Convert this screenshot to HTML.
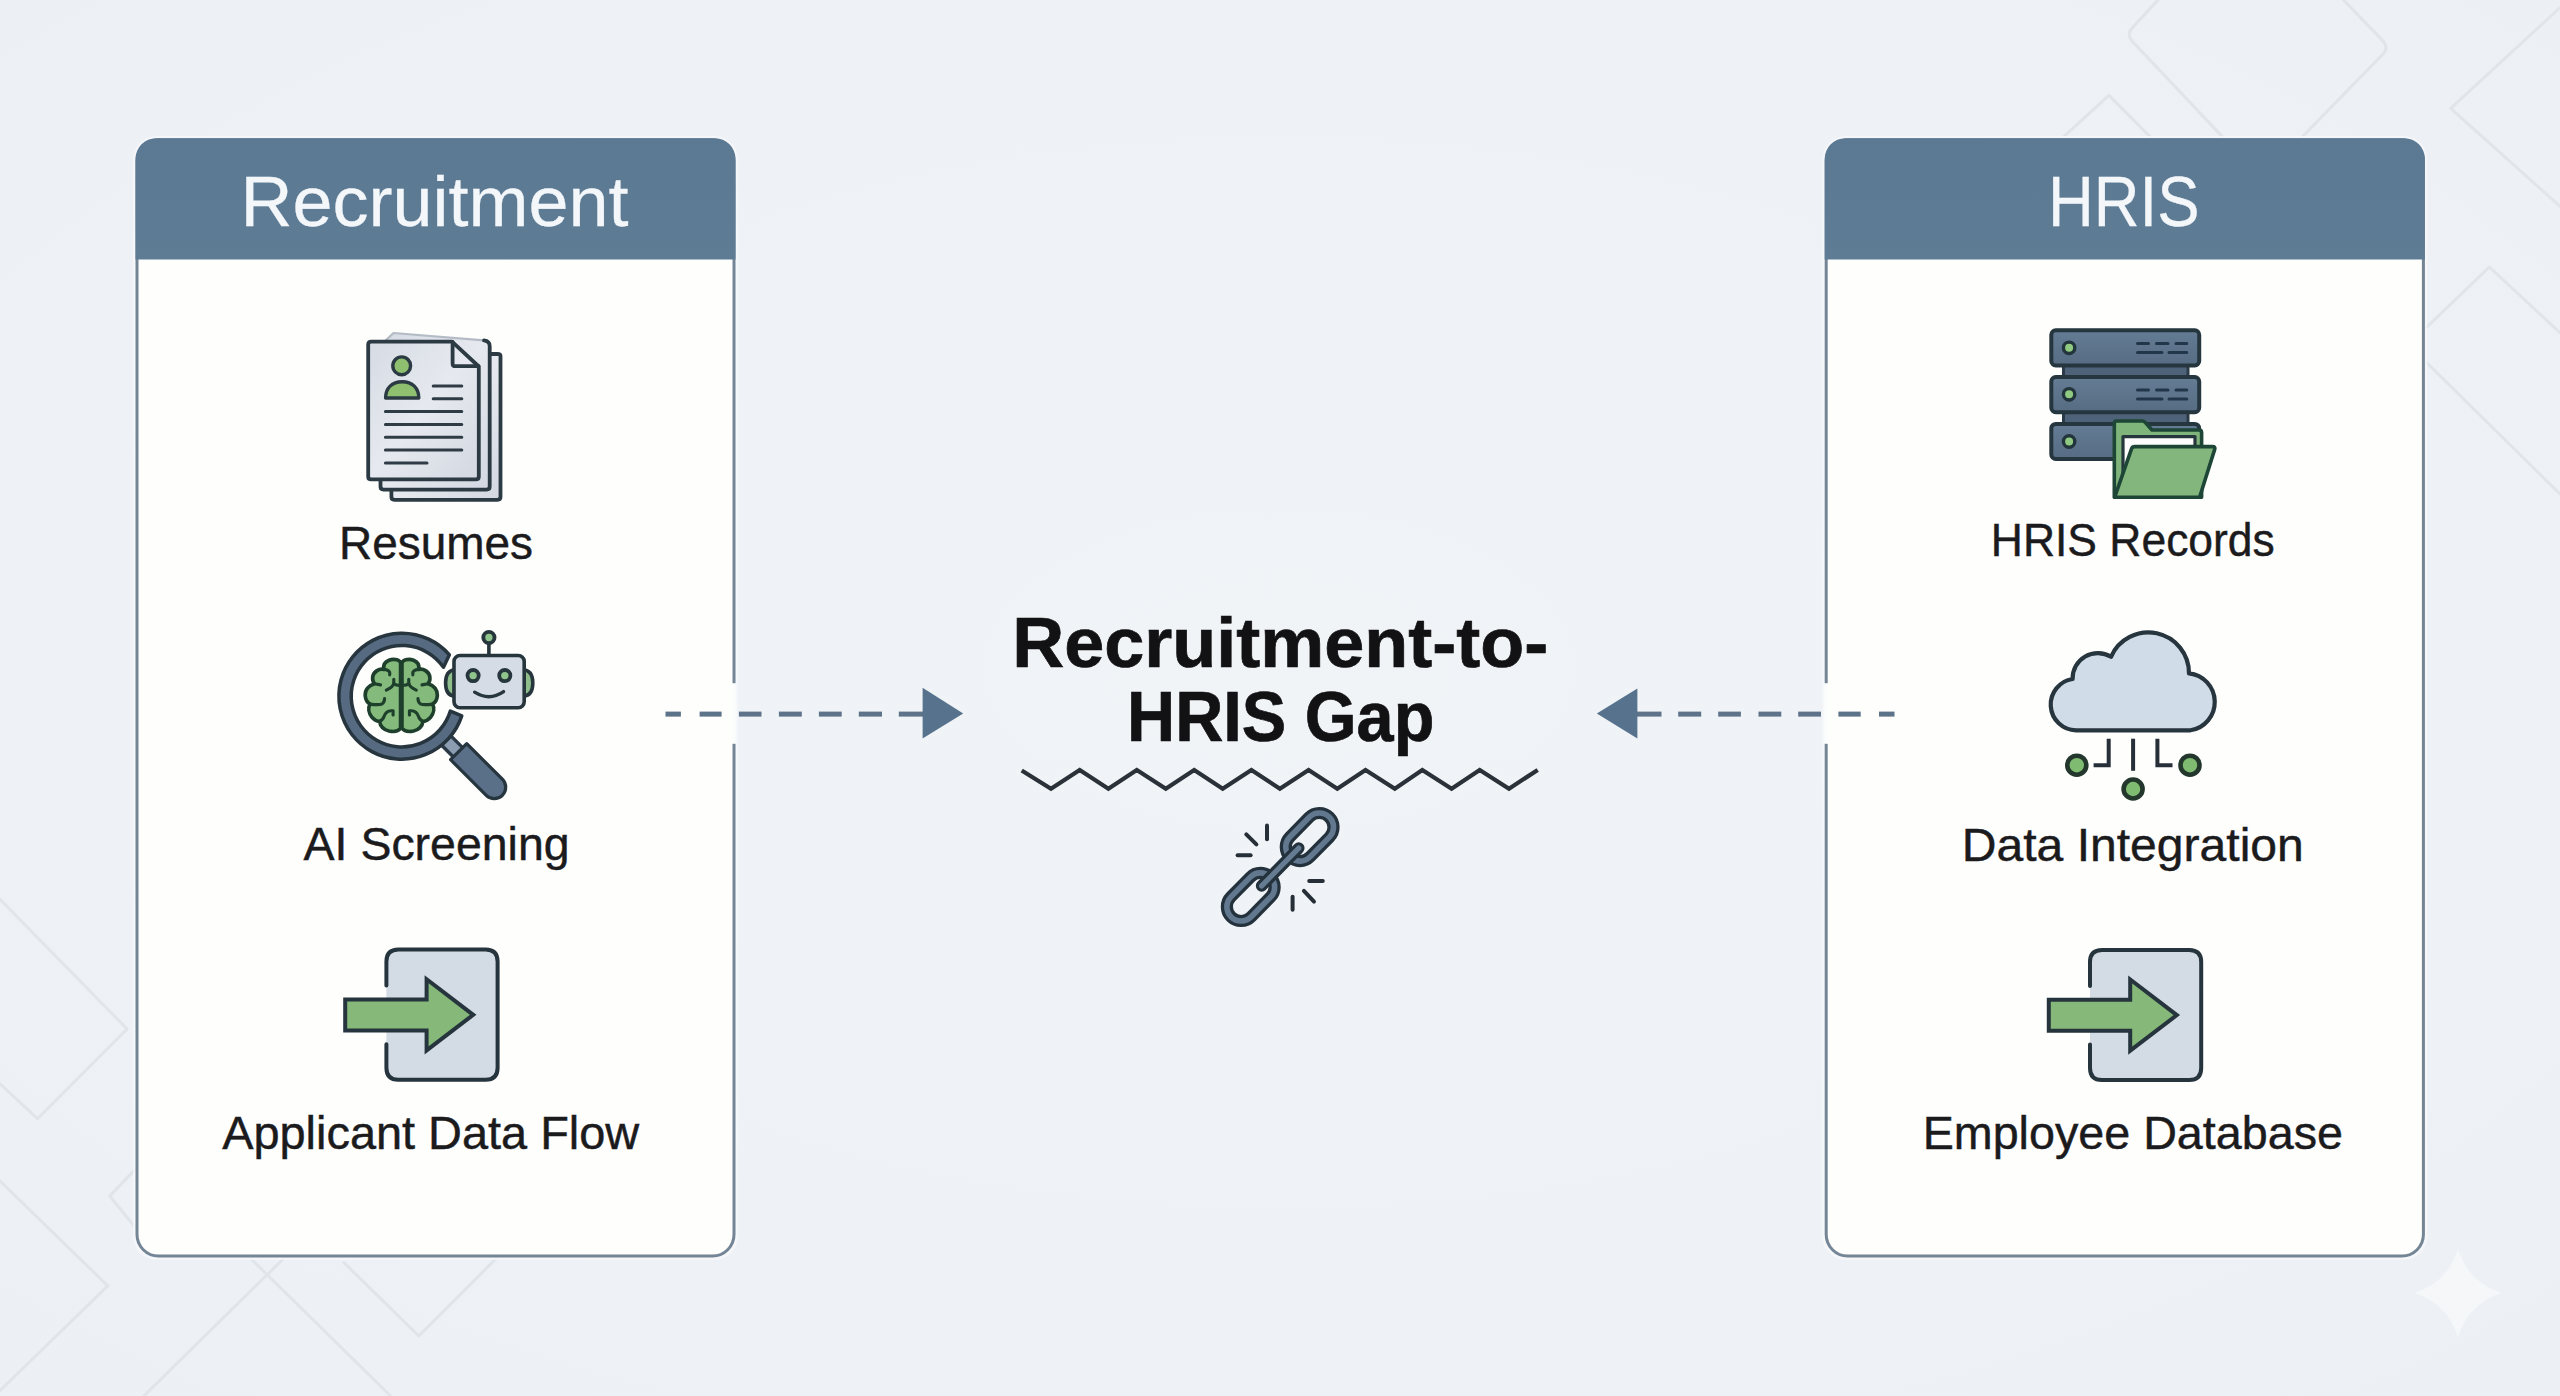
<!DOCTYPE html>
<html lang="en">
<head>
<meta charset="utf-8">
<title>Recruitment-to-HRIS Gap</title>
<style>
  html, body { margin: 0; padding: 0; background: #eef2f5; }
  body { width: 2560px; height: 1396px; overflow: hidden; }
  svg { display: block; }
  text { font-family: "Liberation Sans", "DejaVu Sans", sans-serif; }
  .hdr { font-size: 70px; fill: #f4f7fa; stroke: #f4f7fa; stroke-width: 0.3px; }
  .lbl { font-size: 47px; fill: #1b1b1d; stroke: #1b1b1d; stroke-width: 0.45px; }
  .ttl { font-size: 70px; font-weight: bold; fill: #121214; stroke: #121214; stroke-width: 0.7px; }
</style>
</head>
<body>
<svg width="2560" height="1396" viewBox="0 0 2560 1396">
  <defs>
    <radialGradient id="bg" cx="50%" cy="48%" r="75%">
      <stop offset="0" stop-color="#f1f4f7"/>
      <stop offset="1" stop-color="#ecf0f5"/>
    </radialGradient>
    <linearGradient id="hdrg" x1="0" y1="0" x2="0" y2="1">
      <stop offset="0" stop-color="#5c7993"/>
      <stop offset="1" stop-color="#5f7c95"/>
    </linearGradient>
    <linearGradient id="pageg" x1="0" y1="0" x2="1" y2="1">
      <stop offset="0" stop-color="#d6dbe4"/>
      <stop offset="0.5" stop-color="#e6e9ef"/>
      <stop offset="1" stop-color="#d3d8e1"/>
    </linearGradient>
    <linearGradient id="gapL" x1="0" y1="0" x2="1" y2="0">
      <stop offset="0" stop-color="#fefefd"/><stop offset="0.55" stop-color="#fbfcfc"/><stop offset="1" stop-color="#f3f6f9"/>
    </linearGradient>
    <linearGradient id="gapR" x1="1" y1="0" x2="0" y2="0">
      <stop offset="0" stop-color="#fefefd"/><stop offset="0.55" stop-color="#fbfcfc"/><stop offset="1" stop-color="#f3f6f9"/>
    </linearGradient>
    <clipPath id="clipL"><rect x="137" y="139.8" width="597" height="1116.2" rx="19" ry="19"/></clipPath>
    <clipPath id="clipR"><rect x="1826.2" y="139.8" width="597.2" height="1116.2" rx="19" ry="19"/></clipPath>
  </defs>

  <!-- ===== background ===== -->
  <rect x="0" y="0" width="2560" height="1396" fill="url(#bg)"/>

  <!-- faint geometric lines -->
  <g id="bglines" fill="none" stroke="#dfe4e8" stroke-width="3" stroke-linejoin="round" stroke-linecap="round" opacity="0.9">
    <!-- top right -->
    <path d="M2158 0 L2133 27 Q2126 34 2132 41 L2222.4 136.7"/>
    <path d="M2343.6 0 L2383 41 Q2389 48 2383 54 L2302.4 136.7"/>
    <path d="M2063.8 136.7 L2108.9 95.4 L2150.2 136.7"/>
    <path d="M2560 7.7 L2450.7 108.3 L2560 206.3"/>
    <path d="M2426.2 327.6 L2489.4 267 L2560 332.7"/>
    <path d="M2426 362 L2560 494"/>
    <!-- bottom left -->
    <path d="M0 899.4 L127.1 1029 L37.4 1118.7 L0 1083.8"/>
    <path d="M0 1181 L107.8 1285.9 L0 1390.6"/>
    <path d="M136 1168.6 L109.7 1196 L136 1228.4"/>
    <path d="M250 1257.8 L390.6 1396"/>
    <path d="M284.4 1257.8 L143.8 1396"/>
    <path d="M343.8 1262.5 L418.8 1336 L496.9 1257.8"/>
  </g>

  <!-- sparkle bottom right -->
  <path d="M2458 1249 Q2468.5 1282.5 2502 1293 Q2468.5 1303.5 2458 1337 Q2447.5 1303.5 2414 1293 Q2447.5 1282.5 2458 1249 Z" fill="#f5f7fa" opacity="0.9"/>

  <!-- ===== left panel ===== -->
  <g id="panelL">
    <rect x="133" y="136" width="605" height="1124" rx="24" ry="24" fill="#f6f8fa" opacity="0.8"/>
    <rect x="137" y="139.8" width="597" height="1116.2" rx="21.5" ry="21.5" fill="#fefefd"/>
    <rect x="137" y="139.8" width="597" height="1116.2" rx="21.5" ry="21.5" fill="none" stroke="#748595" stroke-width="3"/>
    <path d="M135.5 259.6 V158.8 A20.5 20.5 0 0 1 156 138.3 H715 A20.5 20.5 0 0 1 735.5 158.8 V259.6 Z" fill="url(#hdrg)"/>
    <!-- gap in border where arrow crosses -->
    <rect x="731" y="683.2" width="7" height="60.6" fill="url(#gapL)"/>
    <text class="hdr" x="434.6" y="226" text-anchor="middle" textLength="388" lengthAdjust="spacingAndGlyphs">Recruitment</text>
    <text class="lbl" x="436" y="559.4" text-anchor="middle" textLength="194" lengthAdjust="spacingAndGlyphs">Resumes</text>
    <text class="lbl" x="436.6" y="860.4" text-anchor="middle" textLength="266" lengthAdjust="spacingAndGlyphs">AI Screening</text>
    <text class="lbl" x="430.7" y="1149.4" text-anchor="middle" textLength="417" lengthAdjust="spacingAndGlyphs">Applicant Data Flow</text>
  </g>

  <!-- ===== right panel ===== -->
  <g id="panelR">
    <rect x="1822.2" y="136" width="605.2" height="1124" rx="24" ry="24" fill="#f6f8fa" opacity="0.8"/>
    <rect x="1826.2" y="139.8" width="597.2" height="1116.2" rx="21.5" ry="21.5" fill="#fefefd"/>
    <rect x="1826.2" y="139.8" width="597.2" height="1116.2" rx="21.5" ry="21.5" fill="none" stroke="#748595" stroke-width="3"/>
    <path d="M1824.7 259.6 V158.8 A20.5 20.5 0 0 1 1845.2 138.3 H2404.4 A20.5 20.5 0 0 1 2424.9 158.8 V259.6 Z" fill="url(#hdrg)"/>
    <rect x="1822.4" y="683.2" width="7" height="60.6" fill="url(#gapR)"/>
    <text class="hdr" x="2123.7" y="226.4" text-anchor="middle" textLength="151.5" lengthAdjust="spacingAndGlyphs">HRIS</text>
    <text class="lbl" x="2132.8" y="556.1" text-anchor="middle" textLength="284" lengthAdjust="spacingAndGlyphs">HRIS Records</text>
    <text class="lbl" x="2132.8" y="860.6" text-anchor="middle" textLength="342" lengthAdjust="spacingAndGlyphs">Data Integration</text>
    <text class="lbl" x="2132.8" y="1149.3" text-anchor="middle" textLength="420.3" lengthAdjust="spacingAndGlyphs">Employee Database</text>
  </g>

  <!-- ===== dashed arrows ===== -->
  <g id="arrows" fill="#57728c" stroke="none">
    <g fill="#5d7389">
      <rect x="665.5" y="711.6" width="15.4" height="5"/>
      <rect x="699.6" y="711.6" width="22" height="5"/>
      <rect x="738.9" y="711.6" width="22.6" height="5"/>
      <rect x="778.9" y="711.6" width="22.9" height="5"/>
      <rect x="818.9" y="711.6" width="22.8" height="5"/>
      <rect x="858.8" y="711.6" width="23.2" height="5"/>
      <rect x="898.8" y="711.6" width="25" height="5"/>
    </g>
    <path d="M922.6 687.7 L963.2 713.6 L922.6 738.6 Z"/>
    <g fill="#5d7389">
      <rect x="1637" y="711.6" width="24.5" height="5"/>
      <rect x="1678.2" y="711.6" width="23" height="5"/>
      <rect x="1718.2" y="711.6" width="22.7" height="5"/>
      <rect x="1758.5" y="711.6" width="22.8" height="5"/>
      <rect x="1798.2" y="711.6" width="22.8" height="5"/>
      <rect x="1838.4" y="711.6" width="22.3" height="5"/>
      <rect x="1879" y="711.6" width="15.5" height="5"/>
    </g>
    <path d="M1637.4 688.4 L1596.8 713.6 L1637.4 738.6 Z"/>
  </g>

  <!-- ===== centre title ===== -->
  <g id="title">
    <text class="ttl" x="1280.2" y="667.3" text-anchor="middle" textLength="536" lengthAdjust="spacingAndGlyphs">Recruitment-to-</text>
    <text class="ttl" x="1280.7" y="741" text-anchor="middle" textLength="307.3" lengthAdjust="spacingAndGlyphs">HRIS Gap</text>
    <path d="M1021.7 770.5 L1051 788.7 L1079.7 769.9 L1108.4 788.7 L1136.8 769.9 L1165.8 788.7 L1194.2 769.9 L1222.7 788.7 L1251.4 769.9 L1279.9 788.7 L1308.6 769.9 L1337.3 788.7 L1365.5 769.9 L1394.8 788.7 L1422.3 769.9 L1451.6 788.7 L1479.7 769.9 L1509 788.7 L1537.7 769.9" fill="none" stroke="#2a3138" stroke-width="4.2" stroke-linejoin="miter" stroke-linecap="butt"/>
  </g>


  <!-- ===== icon: resumes ===== -->
  <g id="icoResume" stroke="#2c3a43" stroke-width="3.8" stroke-linejoin="round" stroke-linecap="round">
    <!-- back page -->
    <path d="M500.5 356 V496.8 Q500.5 499.8 497.5 499.8 H394.4 Q391.4 499.8 391.4 496.8 V356 Q391.4 354 394 354 H497.5 Q500.5 354 500.5 356 Z" fill="url(#pageg)"/>
    <!-- middle page -->
    <path d="M393.5 333 L484 340.4 Q489.7 341.2 489.7 346 V486.6 Q489.7 489.6 486.7 489.6 H383.5 Q380.5 489.6 380.5 486.6 V345 Z" fill="url(#pageg)" stroke="none"/>
    <path d="M384 342 L393.5 333 L484 340.4" stroke="#b4bbc5" stroke-width="2.2" fill="none"/>
    <path d="M484 340.4 Q489.7 341.2 489.7 346 V486.6 Q489.7 489.6 486.7 489.6 H383.5 Q380.5 489.6 380.5 486.6 V470" fill="none"/>
    <!-- front page -->
    <path d="M371.2 341.6 H452 L478.8 366.5 V476.4 Q478.8 479.4 475.8 479.4 H371.2 Q368.2 479.4 368.2 476.4 V344.6 Q368.2 341.6 371.2 341.6 Z" fill="url(#pageg)"/>
    <path d="M452.6 342 V363.4 Q452.6 366.2 455.4 366.2 H478.4" fill="none"/>
    <!-- avatar -->
    <circle cx="401.7" cy="365.8" r="8.9" fill="#8ec070" stroke-width="3.4"/>
    <path d="M385.6 398 C385.6 388 392 381.7 402.2 381.7 C412.4 381.7 418.8 388 418.8 398 Z" fill="#8ec070" stroke-width="3.4"/>
    <!-- text lines -->
    <g stroke-width="3" fill="none" stroke="#2f3c46">
      <path d="M433.2 386 H461.8 M433.2 398.7 H461.8 M385.4 411.5 H461.8 M385.4 424.5 H461.8 M385.4 437.3 H461.8 M385.4 450 H461.8 M385.4 462.9 H427"/>
    </g>
  </g>

  <!-- ===== icon: data flow (left) ===== -->
  <g id="icoFlow">
    <g id="flowShape" stroke="#26353d" stroke-width="4" stroke-linejoin="miter" stroke-linecap="round">
      <rect x="386.4" y="949.6" width="111.2" height="130.1" rx="12" ry="12" fill="#d3dbe5" stroke="none"/>
      <path d="M386.4 985.6 V961.6 Q386.4 949.6 398.4 949.6 H485.6 Q497.6 949.6 497.6 961.6 V1067.7 Q497.6 1079.7 485.6 1079.7 H398.4 Q386.4 1079.7 386.4 1067.7 V1044.3" fill="none"/>
      <path d="M345.2 999.5 H426.6 V979.2 L473.2 1014.8 L426.6 1050.4 V1030.4 H345.2 Z" fill="#86b979" stroke-linejoin="miter"/>
    </g>
  </g>
  <use href="#flowShape" x="1703.6" y="0.3"/>


  <!-- ===== icon: AI screening ===== -->
  <g id="icoAI">
    <!-- neck -->
    <path d="M443.5 737.8 L459.5 753.8" stroke="#2a3945" stroke-width="16.5" fill="none"/>
    <path d="M443.5 737.8 L459.5 753.8" stroke="#8c9db2" stroke-width="9.8" fill="none"/>
    <!-- handle -->
    <g transform="translate(457.6 750.6) rotate(45)">
      <path d="M1.5 -11.4 H51.9 A11.4 11.4 0 0 1 51.9 11.4 H1.5 Z" fill="#5a7088" stroke="#27353f" stroke-width="3.2" stroke-linejoin="round"/>
    </g>
    <!-- ring -->
    <path d="M461.75 715.88 A63 63 0 1 1 449.38 654.78 L443.48 667.19 A50.7 50.7 0 1 0 450.36 711.11 Z" fill="#566b81" stroke="#27353f" stroke-width="3.5" stroke-linejoin="round"/>
    <!-- brain -->
    <g transform="translate(355 650) scale(0.06805)" stroke="#1d3f2b" stroke-width="54" stroke-linejoin="round" stroke-linecap="round" fill="#84ba7c">
      <path id="hemi" d="M690 200 C690 150 780 120 860 150 C920 175 950 220 935 285 C1010 270 1090 320 1100 400 C1105 440 1095 470 1075 495 C1160 520 1215 590 1210 670 C1205 730 1180 770 1140 795 C1170 850 1160 930 1110 990 C1080 1025 1040 1045 1000 1050 C990 1110 940 1170 860 1190 C790 1205 720 1190 690 1150 Z"/>
      <use href="#hemi" transform="translate(1360 0) scale(-1 1)"/>
      <g fill="none" stroke-width="46">
        <g id="folds">
          <path d="M935 285 Q860 295 850 330 L850 365"/>
          <path d="M790 430 L790 490 Q800 545 900 590"/>
          <path d="M790 495 Q760 520 700 520"/>
          <path d="M1075 495 L985 512"/>
          <path d="M1140 795 Q1000 812 960 790 Q928 770 925 715"/>
          <path d="M800 955 L800 895 Q900 878 935 980 Q945 1025 1000 1050"/>
        </g>
        <use href="#folds" transform="translate(1360 0) scale(-1 1)"/>
      </g>
    </g>
    <!-- robot -->
    <g stroke="#26363c" stroke-width="3.6" stroke-linejoin="round" stroke-linecap="round">
      <path d="M454.5 669.8 C447.4 670.6 445.6 677 445.6 683 C445.6 689 447.4 695.5 454.5 696.3 Z" fill="#8fbe8a"/>
      <path d="M523.7 669.8 C530.8 670.6 532.8 677 532.8 683 C532.8 689 530.8 695.5 523.7 696.3 Z" fill="#8fbe8a"/>
      <path d="M488.9 655 V644" fill="none"/>
      <circle cx="488.9" cy="637.5" r="5.6" fill="#8fc48c" stroke-width="3.9"/>
      <rect x="454" y="655.5" width="70.2" height="52.2" rx="6" ry="6" fill="#d5dce6"/>
      <circle cx="473.1" cy="675.6" r="5.6" fill="#8fc48c" stroke-width="3.8"/>
      <circle cx="504.8" cy="675.6" r="5.6" fill="#8fc48c" stroke-width="3.8"/>
      <path d="M474.6 692.2 Q489.4 701.5 503.6 691.6" fill="none" stroke-width="3.3"/>
    </g>
  </g>


  <!-- ===== icon: HRIS records (server + folder) ===== -->
  <g id="icoServer">
    <defs>
      <linearGradient id="srvg" x1="0" y1="0" x2="0" y2="1">
        <stop offset="0" stop-color="#647c94"/>
        <stop offset="1" stop-color="#566c83"/>
      </linearGradient>
    </defs>
    <!-- connectors -->
    <rect x="2063.5" y="364" width="124.5" height="14" fill="#4e6379" stroke="#2a3a46" stroke-width="3"/>
    <rect x="2063.5" y="411" width="124.5" height="14" fill="#4e6379" stroke="#2a3a46" stroke-width="3"/>
    <!-- units -->
    <g fill="url(#srvg)" stroke="#26363f" stroke-width="4" stroke-linejoin="round">
      <rect x="2051.3" y="330.3" width="147.9" height="35.1" rx="4.5" ry="4.5"/>
      <rect x="2051.3" y="377.1" width="147.9" height="35.1" rx="4.5" ry="4.5"/>
      <rect x="2051.3" y="423.9" width="147.9" height="35.1" rx="4.5" ry="4.5"/>
    </g>
    <!-- LEDs -->
    <g fill="#8fc982" stroke="#22343c" stroke-width="3.4">
      <circle cx="2069.1" cy="347.8" r="5.7"/>
      <circle cx="2069.1" cy="394.3" r="5.7"/>
      <circle cx="2069.1" cy="441.5" r="5.7"/>
    </g>
    <!-- dashes -->
    <g fill="none" stroke="#22364a" stroke-width="3" stroke-linecap="round">
      <path d="M2137.5 343.6 H2148.5 M2156.5 343.6 H2168 M2176 343.6 H2186.8 M2137.5 352.5 H2162 M2169 352.5 H2186.8"/>
      <path d="M2137.5 390 H2148.5 M2156.5 390 H2168 M2176 390 H2186.8 M2137.5 398.9 H2162 M2169 398.9 H2186.8"/>
    </g>
    <!-- folder -->
    <g stroke="#1e4637" stroke-width="3.6" stroke-linejoin="round">
      <path d="M2114.3 497.3 V423.5 Q2114.3 421 2116.8 421 H2142 Q2144 421 2145.2 422.4 L2152 430 H2199 Q2201.6 430 2201.6 432.6 V497.3 Z" fill="#7fb47a"/>
      <path d="M2123 497 V436.6 H2195 V497 Z" fill="#fbfcfb" stroke="#25363d" stroke-width="3.2"/>
      <path d="M2114.6 497.3 L2131.6 448.6 Q2132.4 446.6 2134.6 446.6 H2212.6 Q2215.6 446.6 2214.7 449.4 L2199.6 497.3 Z" fill="#82b67c"/>
    </g>
  </g>

  <!-- ===== icon: data integration (cloud) ===== -->
  <g id="icoCloud" stroke="#27353e" stroke-linejoin="round" stroke-linecap="round">
    <path d="M2076.1 730.3 A25.8 25.8 0 0 1 2072.6 679 A25.2 25.2 0 0 1 2111 656.8 A40.7 40.7 0 0 1 2189 673.4 A28.7 28.7 0 0 1 2190.5 730.3 Z" fill="#d0dde9" stroke-width="4.2"/>
    <g fill="none" stroke-width="4" stroke-linecap="butt" stroke-linejoin="miter" stroke="#272f38">
      <path d="M2133.1 738.7 V770.8"/>
      <path d="M2108.7 738.7 V765.2 H2093.6"/>
      <path d="M2157.4 738.7 V765.2 H2172.5"/>
    </g>
    <g fill="#7fbb70" stroke="#24372c" stroke-width="4.6">
      <circle cx="2076.8" cy="765.2" r="9.5"/>
      <circle cx="2190" cy="765.2" r="9.5"/>
      <circle cx="2133.1" cy="789" r="9.5"/>
    </g>
  </g>

  <!-- ===== icon: broken chain ===== -->
  <g id="icoChain">
    <g transform="translate(1280.2 867) rotate(-45.5)">
      <!-- lower-left link -->
      <g transform="translate(-42 0)">
        <rect x="-28" y="-14.2" width="56" height="28.4" rx="14.2" ry="14.2" fill="none" stroke="#24323d" stroke-width="12.2"/>
        <rect x="-28" y="-14.2" width="56" height="28.4" rx="14.2" ry="14.2" fill="none" stroke="#62788f" stroke-width="5.6"/>
      </g>
      <!-- upper-right link -->
      <g transform="translate(42 0)">
        <rect x="-28" y="-14.2" width="56" height="28.4" rx="14.2" ry="14.2" fill="none" stroke="#24323d" stroke-width="12.2"/>
        <rect x="-28" y="-14.2" width="56" height="28.4" rx="14.2" ry="14.2" fill="none" stroke="#62788f" stroke-width="5.6"/>
      </g>
      <!-- middle link (edge-on) -->
      <path d="M-26.5 0 H26.5" stroke="#24323d" stroke-width="11.6" stroke-linecap="round" fill="none"/>
      <path d="M-26.5 0 H26.5" stroke="#667c93" stroke-width="5.2" stroke-linecap="round" fill="none"/>
    </g>
    <g fill="none" stroke="#262f37" stroke-width="4" stroke-linecap="round">
      <path d="M1267 825.6 V839.2"/>
      <path d="M1246.3 834.3 L1256.4 844.4"/>
      <path d="M1237.6 855.2 H1250.6"/>
      <path d="M1309.2 881 H1322.8"/>
      <path d="M1303.9 890.9 L1314 901.6"/>
      <path d="M1292.6 896.8 V909.8"/>
    </g>
  </g>
</svg>
</body>
</html>
